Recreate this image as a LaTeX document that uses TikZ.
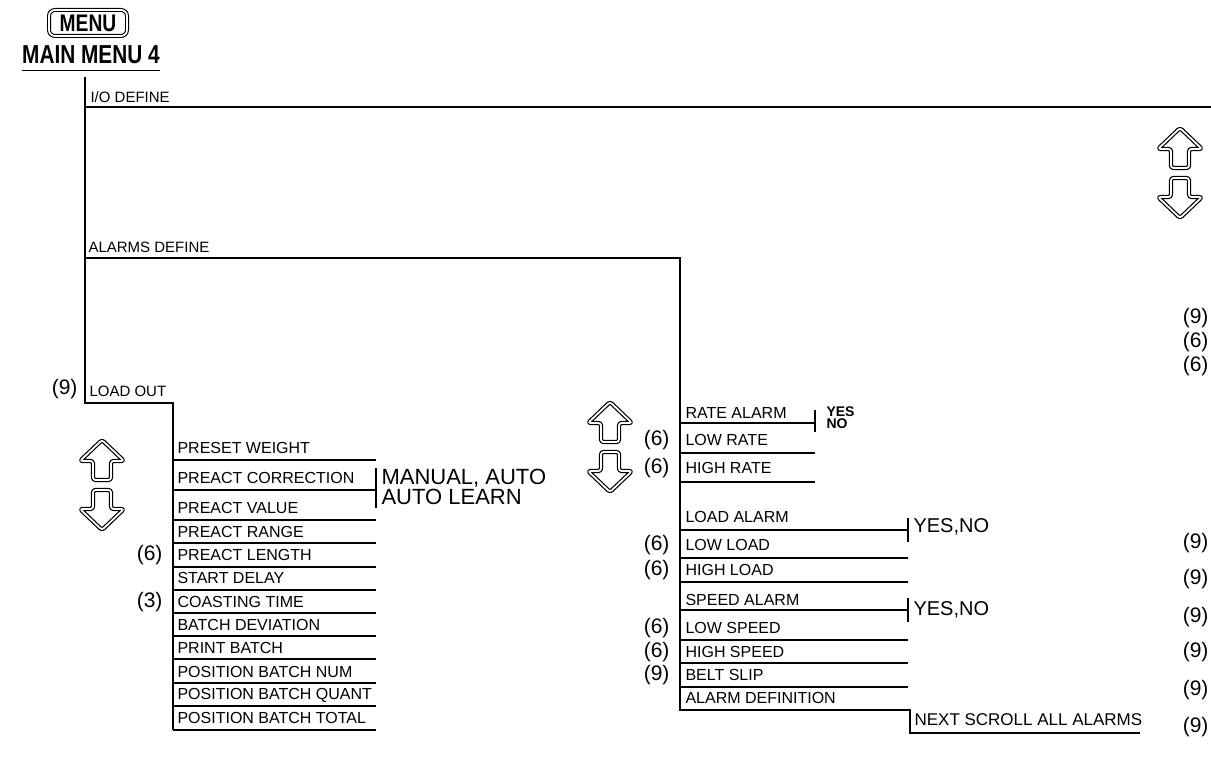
\documentclass[tikz,border=0pt]{standalone}
\usepackage{fontspec}
\setmainfont{Liberation Sans}
\newfontfamily\headfont[FakeStretch=0.8]{Liberation Sans}
\usetikzlibrary{positioning,calc}

\tikzset{
	item/.style={anchor=west,inner sep=0pt,font=\fontsize{16}{16}\selectfont},
	small/.style={anchor=west,inner sep=0pt,font=\fontsize{15}{15}\selectfont},
	ref/.style={anchor=east,inner sep=0pt,font=\fontsize{21}{21}\selectfont},
	choice/.style={anchor=west,inner sep=0pt,font=\fontsize{20}{20}\selectfont},
	arr/.style={draw,line width=1.2pt,double,double distance=1.8pt,rounded corners=2.5pt,line join=round},
	uparr/.pic={\path[arr] (0,-21) -- (22,0) -- (9,0) -- (9,19) -- (-9,19) -- (-9,0) -- (-22,0) -- cycle;},
	dnarr/.pic={\path[arr] (0,21) -- (22,0) -- (9,0) -- (9,-19) -- (-9,-19) -- (-9,0) -- (-22,0) -- cycle;},
}

\begin{document}
\begin{tikzpicture}[x=1pt,y=-1pt,line width=1.1pt]
	\useasboundingbox (0,0) rectangle (1211,757);
	
	\node[draw,double,double distance=1.8pt,line width=1.1pt,rounded corners=6pt,minimum width=78pt,minimum height=26pt,inner sep=0pt,font=\headfont\bfseries\fontsize{24}{24}\selectfont] (menu) at (88,23) {MENU};
	\node[inner sep=0pt,font=\headfont\bfseries\fontsize{26}{26}\selectfont] (main) at (91,55) {MAIN MENU 4};
	\draw ([yshift=-6pt]main.south west) -- ([yshift=-6pt]main.south east);
	
	\coordinate (top) at (85,77);
	\coordinate (io) at (85,107);
	\coordinate (al) at (85,258);
	\coordinate (lo) at (85,403);
	\coordinate (alc) at (680,258);
	\coordinate (nx) at (910,710);
	
	\draw (top) -- (lo) -- (173,403) -- (173,730);
	\draw (io) -- (1211,107);
	\draw (al) -- (alc) -- (680,710) -- (nx) -- (910,733) -- (1140,733);
	
	\node[small] (iot) at (90,97) {I/O DEFINE};
	\node[small] (alt) at (88,247) {ALARMS DEFINE};
	\node[small] (lot) at (89,391) {LOAD OUT};
	\node[ref] (lo9) at (78,389) {(9)};
	
	\foreach \t/\y/\l [count=\i] in {PRESET WEIGHT/448/460,PREACT CORRECTION/478/490,PREACT VALUE/508/520,PREACT RANGE/532/543,PREACT LENGTH/555/567,START DELAY/578/590,COASTING TIME/602/613,BATCH DEVIATION/625/636,PRINT BATCH/648/659,POSITION BATCH NUM/672/683,POSITION BATCH QUANT/695/706,POSITION BATCH TOTAL/718/730}{
		\node[item] (lw\i) at (177,\y) {\t};
		\draw (173,\l) -- (376,\l);
	}
	\draw (376,468) -- (376,508);
	\node[anchor=west,inner sep=0pt,align=left,font=\fontsize{22}{20}\selectfont] (corr) at (381,487) {MANUAL, AUTO\\AUTO LEARN};
	\node[ref] (r1) at (163,555) {(6)};
	\node[ref] (r2) at (163,602) {(3)};
	
	\foreach \t/\y/\l/\e [count=\i] in {RATE ALARM/413/423/815,LOW RATE/440/453/815,HIGH RATE/468/482/815,LOAD ALARM/517/530/908,LOW LOAD/545/558/908,HIGH LOAD/570/582/908,SPEED ALARM/600/610/908,LOW SPEED/628/640/908,HIGH SPEED/652/663/908,BELT SLIP/675/687/908}{
		\node[item] (al\i) at (685,\y) {\t};
		\draw (680,\l) -- (\e,\l);
	}
	\node[item] (al11) at (685,698) {ALARM DEFINITION};
	
	\draw (815,410) -- (815,432);
	\node[anchor=west,inner sep=0pt,align=left,font=\bfseries\fontsize{14}{12}\selectfont] (yn1) at (826,418) {YES\\NO};
	\draw (908,518) -- (908,542);
	\node[choice] (yn2) at (913,527) {YES,NO};
	\draw (908,598) -- (908,622);
	\node[choice] (yn3) at (913,610) {YES,NO};
	\node[anchor=west,inner sep=0pt,font=\fontsize{17}{17}\selectfont] (next) at (914,720) {NEXT SCROLL ALL ALARMS};
	
	\foreach \y/\n in {440/6,468/6,545/6,570/6,628/6,652/6,675/9}
		\node[ref] at (670,\y) {(\n)};
	\foreach \y/\n in {318/9,342/6,366/6,543/9,579/9,617/9,652/9,690/9,727/9}
		\node[ref] at (1209,\y) {(\n)};
	
	\pic at (102,461) {uparr};
	\pic at (102,509) {dnarr};
	\pic at (610,423) {uparr};
	\pic at (610,471) {dnarr};
	\pic at (1180,149) {uparr};
	\pic at (1180,197) {dnarr};
	
\end{tikzpicture}
\end{document}
